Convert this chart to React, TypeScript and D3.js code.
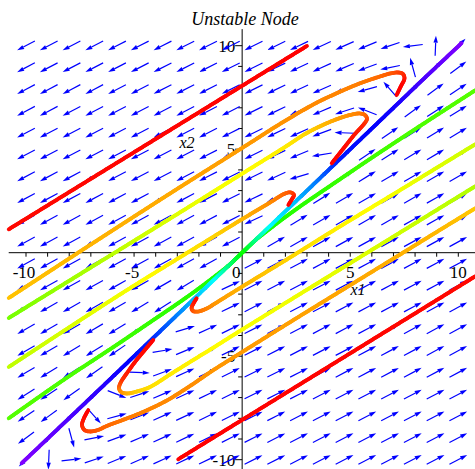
import React, { useEffect, useRef } from 'react';
import * as d3 from 'd3';

const WIDTH = 475;
const HEIGHT = 469;

// Linear system x' = A x (unstable node, eigenvalue ratio 4:1)
const SYSTEM_MATRIX = [
  [28, -25],
  [16, -13],
];
const FIELD_MIN = -10;
const FIELD_MAX = 10;
const FIELD_GRID = 20;

const X_TICK_LABELS = [-10, -5, 0, 5, 10];
const Y_TICK_LABELS = [-10, -5, 5, 10];
const MINOR_TICKS = d3.range(-10, 11);

// Trajectories as [x1, x2, hue]
const greenUpper = [
  [0, 0, 115], [0.595, 0.589, 115], [1.057, 0.976, 114], [1.751, 1.531, 112], [2.676, 2.232, 110],
  [4.064, 3.222, 108], [5.914, 4.527, 105], [8.228, 6.121, 102], [10.805, 7.86, 100],
];
const greenLower = [
  [0, 0, 115], [-0.595, -0.589, 115], [-1.057, -0.976, 114], [-1.751, -1.531, 112], [-2.676, -2.232, 110],
  [-4.064, -3.222, 108], [-5.914, -4.527, 105], [-8.228, -6.121, 102], [-10.8, -8.0, 100],
];
const diagonalUpper = [
  [0, 0, 115], [0.6, 0.6, 150], [1.3, 1.3, 180], [2.5, 2.5, 195], [3.5, 3.5, 212], [4.5, 4.5, 234],
  [7.0, 7.0, 244], [8.5, 8.5, 258], [10.15, 10.12, 270],
];
const diagonalLower = [
  [0, 0, 115], [-0.5, -0.5, 140], [-1.35, -1.35, 180], [-2.8, -2.8, 205], [-4.3, -4.3, 232],
  [-6.6, -6.6, 250], [-10.2, -10.17, 270],
];
const redUpper = [
  [3.0, 9.99, 0], [-10.8, 1.13, 2],
];
const redLower = [
  [-2.96, -9.98, 0], [10.8, -1.13, 2],
];
const bigHookUpper = [
  [7.15, 7.619, 0], [7.349, 8.053, 0], [7.511, 8.415, 3], [7.442, 8.633, 8], [7.21, 8.705, 14],
  [6.84, 8.657, 20], [6.377, 8.512, 24], [5.683, 8.271, 28], [5.082, 8.029, 30], [4.295, 7.667, 31],
  [3.509, 7.28, 32], [2.676, 6.797, 33], [1.52, 6.072, 35], [0.363, 5.3, 36], [-0.331, 4.841, 37],
  [-1.95, 3.778, 38], [-3.338, 2.86, 40], [-6.576, 0.686, 42], [-10.8, -2.188, 46],
];
const midHookUpper = [
  [4.143, 4.319, 0], [4.666, 5.01, 2], [5.221, 5.734, 5], [5.638, 6.217, 8], [5.776, 6.459, 15],
  [5.684, 6.652, 22], [5.452, 6.725, 28], [5.082, 6.676, 32], [4.527, 6.507, 36], [3.833, 6.217, 42],
  [2.908, 5.734, 50], [1.983, 5.106, 55], [1.057, 4.502, 58], [-0.1, 3.754, 60], [-1.95, 2.546, 64],
  [-4.865, 0.662, 72], [-10.8, -3.155, 92],
];
const smallHookUpper = [
  [2.135, 2.304, 0], [2.306, 2.594, 2], [2.399, 2.787, 6], [2.26, 2.908, 14], [1.982, 2.86, 22],
  [1.288, 2.425, 32], [-0.331, 1.411, 45], [-1.95, 0.372, 52], [-5.651, -2.019, 63], [-10.8, -5.522, 75],
];
const bigHookLower = [
  [-7.118, -7.604, 0], [-7.317, -7.99, 2], [-7.409, -8.324, 6], [-7.294, -8.565, 12], [-7.039, -8.638, 17],
  [-6.669, -8.565, 21], [-6.266, -8.372, 24], [-5.651, -8.13, 27], [-4.726, -7.758, 30], [-3.569, -7.188, 32],
  [-2.412, -6.44, 33], [-1.395, -5.715, 35], [-0.331, -5.014, 36], [2.676, -3.058, 38], [5.914, -0.981, 40],
  [8.922, 0.952, 43], [10.805, 2.159, 47],
];
const midHookLower = [
  [-4.111, -4.217, 0], [-4.541, -4.749, 2], [-4.958, -5.28, 3], [-5.327, -5.812, 6], [-5.605, -6.246, 12],
  [-5.698, -6.536, 22], [-5.605, -6.729, 32], [-5.327, -6.802, 40], [-4.865, -6.705, 48], [-4.264, -6.488, 52],
  [-3.338, -5.884, 55], [-2.412, -5.28, 57], [-1.395, -4.628, 59], [-0.331, -3.928, 61], [2.676, -1.995, 64],
  [5.914, 0.082, 68], [7.534, 1.121, 72], [10.805, 3.222, 78],
];
const smallHookLower = [
  [-2.103, -2.203, 0], [-2.251, -2.454, 4], [-2.343, -2.671, 10], [-2.274, -2.816, 18], [-2.043, -2.841, 25],
  [-1.64, -2.696, 30], [-1.256, -2.454, 35], [-0.099, -1.705, 42], [2.214, -0.232, 50], [4.143, 1.024, 56],
  [7.316, 3.029, 63], [10.805, 5.251, 72],
];

const TRAJECTORIES = [
  greenUpper, greenLower, diagonalUpper, diagonalLower, redUpper, redLower,
  bigHookUpper, midHookUpper, smallHookUpper, bigHookLower, midHookLower, smallHookLower,
];

const x = d3.scaleLinear().domain([-10, 10]).range([26, 458.3]);
const y = d3.scaleLinear().domain([-10, 10]).range([459.7, 45.7]);

const AXIS_EXTENT = 10.8;
const ARROW_LEN = 20;
const HEAD_LEN = 7;
const HEAD_HALF = 2.2;
const ARROW_COLOR = '#0000ff';
const SERIF = '"Liberation Serif", "DejaVu Serif", serif';

function fieldArrows() {
  const step = (FIELD_MAX - FIELD_MIN) / (FIELD_GRID - 1);
  const out = [];
  for (let i = 0; i < FIELD_GRID; i++) {
    for (let j = 0; j < FIELD_GRID; j++) {
      const px = FIELD_MIN + i * step;
      const py = FIELD_MIN + j * step;
      const vx = SYSTEM_MATRIX[0][0] * px + SYSTEM_MATRIX[0][1] * py;
      const vy = SYSTEM_MATRIX[1][0] * px + SYSTEM_MATRIX[1][1] * py;
      const sx = vx * (x(1) - x(0));
      const sy = vy * (y(1) - y(0));
      const len = Math.hypot(sx, sy);
      if (len === 0) continue;
      const ux = sx / len;
      const uy = sy / len;
      const cx = x(px);
      const cy = y(py);
      const tail = [cx - (ux * ARROW_LEN) / 2, cy - (uy * ARROW_LEN) / 2];
      const tip = [cx + (ux * ARROW_LEN) / 2, cy + (uy * ARROW_LEN) / 2];
      const base = [tip[0] - ux * HEAD_LEN, tip[1] - uy * HEAD_LEN];
      const head = [
        tip,
        [base[0] - uy * HEAD_HALF, base[1] + ux * HEAD_HALF],
        [base[0] + uy * HEAD_HALF, base[1] - ux * HEAD_HALF],
      ];
      out.push({ key: `${i}-${j}`, tail, tip, base, head });
    }
  }
  return out;
}

export default function App() {
  const trajRef = useRef<SVGGElement>(null);

  useEffect(() => {
    const g = d3.select(trajRef.current);
    g.selectAll('*').remove();
    const line = d3.line().curve(d3.curveCatmullRom.alpha(0.5));
    TRAJECTORIES.forEach((pts) => {
      const pix = pts.map((p) => [x(p[0]), y(p[1])] as [number, number]);
      const cum = [0];
      for (let i = 1; i < pix.length; i++) {
        cum.push(cum[i - 1] + Math.hypot(pix[i][0] - pix[i - 1][0], pix[i][1] - pix[i - 1][1]));
      }
      const chordTotal = cum[cum.length - 1];
      const hueAt = (c: number) => {
        let k = 0;
        while (k < cum.length - 2 && cum[k + 1] < c) k++;
        const span = cum[k + 1] - cum[k] || 1;
        const f = Math.max(0, Math.min(1, (c - cum[k]) / span));
        return pts[k][2] + (pts[k + 1][2] - pts[k][2]) * f;
      };
      const tmp = g.append('path').attr('d', line(pix)).attr('fill', 'none');
      const node = tmp.node() as SVGPathElement;
      const total = node.getTotalLength();
      const n = Math.max(2, Math.ceil(total / 1.5));
      let prev = node.getPointAtLength(0);
      for (let k = 1; k <= n; k++) {
        const s = (k / n) * total;
        const pt = node.getPointAtLength(s);
        const hue = hueAt(((k - 0.5) / n) * chordTotal);
        g.append('line')
          .attr('x1', prev.x)
          .attr('y1', prev.y)
          .attr('x2', pt.x)
          .attr('y2', pt.y)
          .attr('stroke', d3.hsl(hue, 1, 0.5).formatHex())
          .attr('stroke-width', 3.8)
          .attr('stroke-linecap', 'round');
        prev = pt;
      }
      tmp.remove();
    });
  }, []);

  const arrows = fieldArrows();
  const x0 = x(0);
  const y0 = y(0);

  return (
    <svg
      width={WIDTH}
      height={HEIGHT}
      style={{ position: 'absolute', left: 0, top: 0, background: '#fff' }}
    >
      <text
        x={245}
        y={25}
        textAnchor="middle"
        fontFamily={SERIF}
        fontStyle="italic"
        fontSize={18}
      >
        Unstable Node
      </text>

      {/* axes */}
      <g stroke="#000" strokeWidth={1}>
        <line x1={x(-AXIS_EXTENT)} x2={x(AXIS_EXTENT)} y1={y0} y2={y0} />
        <line x1={x0} x2={x0} y1={y(AXIS_EXTENT)} y2={y(-AXIS_EXTENT)} />
        {MINOR_TICKS.filter((t) => t !== 0).map((t) => (
          <line key={`xt${t}`} x1={x(t)} x2={x(t)} y1={y0} y2={y0 + 4} />
        ))}
        {MINOR_TICKS.filter((t) => t !== 0).map((t) => (
          <line
            key={`yt${t}`}
            x1={x0 - (Math.abs(t) % 5 === 0 ? 7 : 4)}
            x2={x0}
            y1={y(t)}
            y2={y(t)}
          />
        ))}
      </g>
      <g fontFamily={SERIF} fontSize={17} fill="#000">
        {X_TICK_LABELS.map((t) => (
          <text key={`xl${t}`} x={t === 0 ? x(t) - 6 : x(t) - (t < 0 ? 2 : 0)} y={278} textAnchor="middle">
            {t < 0 ? `-${Math.abs(t)}` : `${t}`}
          </text>
        ))}
        {Y_TICK_LABELS.map((t) => (
          <text key={`yl${t}`} x={x0 - 7} y={y(t) + 6} textAnchor="end">
            {t < 0 ? `-${Math.abs(t)}` : `${t}`}
          </text>
        ))}
      </g>
      <g fontFamily={SERIF} fontStyle="italic" fontSize={16} fill="#000">
        <text x={358} y={295} textAnchor="middle">x1</text>
        <text x={187} y={148} textAnchor="middle">x2</text>
      </g>

      {/* direction field */}
      <g>
        {arrows.map((a) => (
          <g key={a.key}>
            <line
              x1={a.tail[0]}
              y1={a.tail[1]}
              x2={a.base[0]}
              y2={a.base[1]}
              stroke={ARROW_COLOR}
              strokeWidth={1.2}
            />
            <polygon points={a.head.map((p) => p.join(',')).join(' ')} fill={ARROW_COLOR} />
          </g>
        ))}
      </g>

      <g ref={trajRef} />
    </svg>
  );
}
